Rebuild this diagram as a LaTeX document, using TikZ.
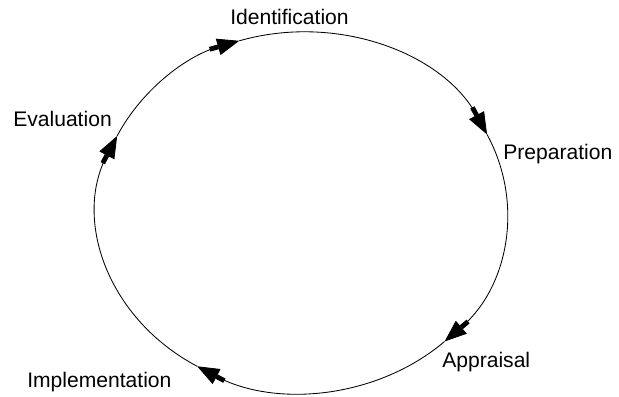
\documentclass[tikz,border=0pt]{standalone}
\usepackage{fontspec}
\setmainfont{Liberation Sans}
\usepackage{tikz}
\usetikzlibrary{arrows.meta}

\begin{document}
\begin{tikzpicture}[
  stage/.style={anchor=base west, inner sep=0pt, font=\fontsize{15}{18}\selectfont},
  cycarrow/.style={line width=0.6pt, -{Rectangle[length=0.22cm, width=0.12cm]Triangle[length=0.55cm, width=0.42cm]}}
]
\useasboundingbox (-7.5625, -4.6) rectangle (7.9125, 5.3);

% Points on the cycle.
\coordinate (ident) at (108:5.1125 and 4.5);
\coordinate (prep) at (25.5:5.1125 and 4.5);
\coordinate (appr) at (-46:5.1125 and 4.5);
\coordinate (impl) at (-121:5.1125 and 4.5);
\coordinate (eval) at (155:5.1125 and 4.5);

% Draw cycle.
\draw[cycarrow] (eval) arc[start angle=155, end angle=108, x radius=5.1125, y radius=4.5];
\draw[cycarrow] (ident) arc[start angle=108, end angle=25.5, x radius=5.1125, y radius=4.5];
\draw[cycarrow] (prep) arc[start angle=25.5, end angle=-46, x radius=5.1125, y radius=4.5];
\draw[cycarrow] (appr) arc[start angle=-46, end angle=-121, x radius=5.1125, y radius=4.5];
\draw[cycarrow] (impl) arc[start angle=-121, end angle=-205, x radius=5.1125, y radius=4.5];

% Draw labels.
\node[stage] (identlabel) at (-1.8125, 4.675) {Identification};
\node[stage] (preplabel) at (5.0125, 1.3) {Preparation};
\node[stage] (apprlabel) at (3.4875, -3.875) {Appraisal};
\node[stage] (impllabel) at (-6.8875, -4.375) {Implementation};
\node[stage] (evallabel) at (-7.2375, 2.125) {Evaluation};

\end{tikzpicture}
\end{document}
